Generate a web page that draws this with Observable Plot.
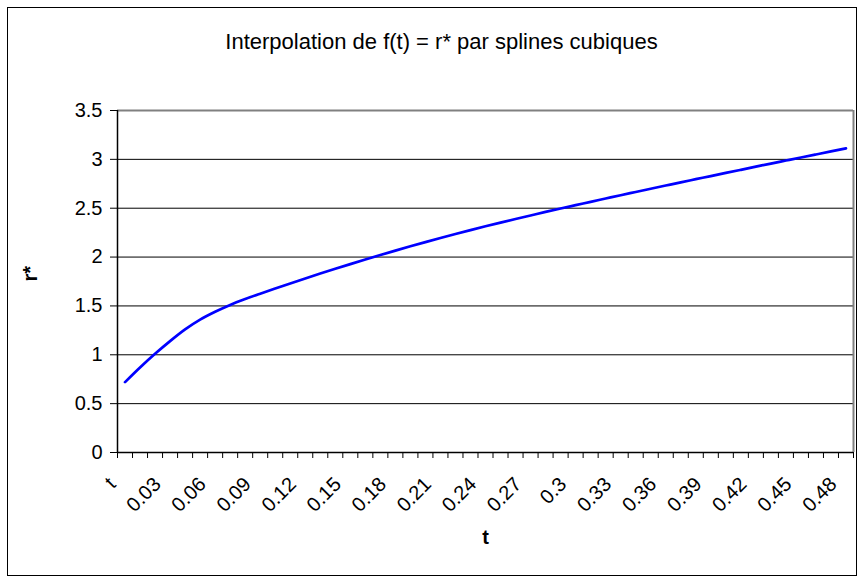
<!DOCTYPE html>
<html>
<head>
<meta charset="utf-8">
<script src="https://cdn.jsdelivr.net/npm/d3@7"></script>
<script src="https://cdn.jsdelivr.net/npm/@observablehq/plot@0.6"></script>
<style>
  html, body { margin: 0; padding: 0; background: #fff; }
  #wrap { position: relative; width: 862px; height: 579px; font-family: "Liberation Sans", Arial, sans-serif; }
  #frame { position: absolute; left: 7px; top: 7px; width: 850px; height: 569px; border: 1px solid #000; box-sizing: border-box; pointer-events: none; }
  #title { height: 78px; box-sizing: border-box; padding-top: 29px; line-height: 25px; text-align: center; font-size: 22px; color: #000; padding-left: 21px; }
  svg { display: block; }
</style>
</head>
<body>
<div id="wrap">
  <div id="frame"></div>
  <div id="title">Interpolation de f(t) = r* par splines cubiques</div>
  <div id="chart"></div>
</div>
<script>
const categories = ["t","0.01","0.02","0.03","0.04","0.05","0.06","0.07","0.08","0.09",
  "0.1","0.11","0.12","0.13","0.14","0.15","0.16","0.17","0.18","0.19",
  "0.2","0.21","0.22","0.23","0.24","0.25","0.26","0.27","0.28","0.29",
  "0.3","0.31","0.32","0.33","0.34","0.35","0.36","0.37","0.38","0.39",
  "0.4","0.41","0.42","0.43","0.44","0.45","0.46","0.47","0.48"];
const rStar = [0.72, 0.87, 1.01, 1.14, 1.26, 1.36, 1.44, 1.51, 1.57, 1.625,
  1.678, 1.730, 1.781, 1.831, 1.880, 1.928, 1.975, 2.021, 2.066, 2.110,
  2.153, 2.195, 2.236, 2.276, 2.315, 2.353, 2.390, 2.426, 2.462, 2.497,
  2.531, 2.565, 2.599, 2.633, 2.666, 2.699, 2.732, 2.765, 2.797, 2.829,
  2.861, 2.893, 2.925, 2.957, 2.988, 3.019, 3.050, 3.081, 3.112];
const xTickLabels = ["t","0.03","0.06","0.09","0.12","0.15","0.18","0.21","0.24","0.27",
  "0.3","0.33","0.36","0.39","0.42","0.45","0.48"];
const yTicks = [0, 0.5, 1, 1.5, 2, 2.5, 3, 3.5];
const xTitle = "t";
const yTitle = "r*";

const data = rStar.map((v, i) => ({i, v}));
const n = categories.length;
const boundaries = d3.range(n + 1).map(k => k - 0.5);
const font = "Liberation Sans, Arial, sans-serif";

const chart = Plot.plot({
  width: 862,
  height: 501,
  marginLeft: 117,
  marginRight: 9,
  marginTop: 32,
  marginBottom: 127,
  x: {type: "linear", domain: [-0.5, n - 0.5], axis: null},
  y: {domain: [0, 3.5], axis: null},
  style: {fontFamily: font, background: "transparent", color: "#000", overflow: "visible"},
  marks: [
    Plot.ruleY(yTicks.filter(v => v > 0 && v < 3.5), {stroke: "#000", strokeOpacity: 1, strokeWidth: 1}),
    Plot.ruleY([3.5], {stroke: "#808080", strokeWidth: 2}),
    Plot.ruleX([n - 0.5], {stroke: "#808080", strokeWidth: 2}),
    Plot.axisY({ticks: yTicks, tickSize: 7, tickPadding: 8, tickFormat: d => String(d), fontSize: 20, stroke: "#000", label: null}),
    Plot.axisX({ticks: boundaries, tickSize: 6, tickFormat: () => "", stroke: "#000", label: null}),
    Plot.text(xTickLabels, {x: d => categories.indexOf(d), text: d => d, frameAnchor: "bottom", rotate: -45, textAnchor: "end", dx: -8, dy: 33, fontSize: 20, fill: "#000"}),
    Plot.ruleX([-0.5], {stroke: "#000", strokeWidth: 1.5}),
    Plot.ruleY([0], {stroke: "#000", strokeWidth: 1.5}),
    Plot.line(data, {x: "i", y: "v", stroke: "#0000ff", strokeWidth: 2.7, curve: "monotone-x"}),
    Plot.text([xTitle], {x: (n - 1) / 2, frameAnchor: "bottom", dy: 91, text: d => d, fontSize: 20, fontWeight: "bold", fill: "#000"}),
    Plot.text([yTitle], {frameAnchor: "left", dx: -87, rotate: -90, text: d => d, fontSize: 20, fontWeight: "bold", fill: "#000"})
  ]
});
document.getElementById("chart").appendChild(chart);
</script>
</body>
</html>
